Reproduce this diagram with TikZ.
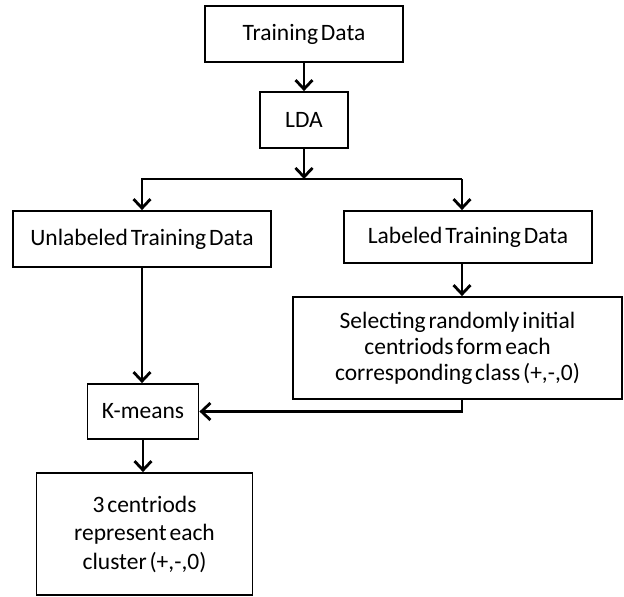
\documentclass[tikz,border=0pt]{standalone}
\usepackage{fontspec}
\setmainfont[WordSpace=0.55]{Carlito}
\usetikzlibrary{arrows.meta}
\tikzset{
  box/.style={draw, line width=1.8pt, inner sep=0pt, align=center,
    font=\fontsize{23.5}{27}\selectfont},
  flow/.style={line width=2.8pt,
    -{Straight Barb[length=9pt,width=17pt,line width=2.8pt]}},
  link/.style={line width=2.8pt}
}
\begin{document}
\begin{tikzpicture}[x=1pt,y=-1pt]
  \useasboundingbox[fill=white] (0,0) rectangle (624,597);

  % processing boxes
  \node[box, minimum width=198pt, minimum height=56pt] (td) at (304,34) {Training Data};
  \node[box, minimum width=88pt, minimum height=56pt] (lda) at (304,120) {LDA};
  \node[box, minimum width=258pt, minimum height=56pt] (unl) at (142,239) {Unlabeled Training Data};
  \node[box, minimum width=248pt, minimum height=52pt] (lab) at (468,237) {Labeled Training Data};
  \node[box, minimum width=329pt, minimum height=102pt,
        font=\fontsize{23.5}{26}\selectfont] (sel) at (457.5,348)
        {Selecting randomly initial\\centriods form each\\corresponding class (+,-,0)};
  \node[box, minimum width=111pt, minimum height=55pt] (km) at (143,411.5) {K-means};
  \node[box, minimum width=216pt, minimum height=122pt,
        font=\fontsize{23.5}{28.5}\selectfont] (res) at (144.5,534)
        {3 centriods\\represent each\\cluster (+,-,0)};

  % branching points
  \coordinate (split) at (304,179);
  \coordinate (right) at (462,179);
  \coordinate (back) at (462,399);

  % connectors
  \draw[flow] (td) -- (lda);
  \draw[flow] (lda) -- (split);
  \draw[link] (split) -- (right);
  \draw[flow] (split) -| (unl.north);
  \draw[flow] (right) -- (right |- lab.north);
  \draw[flow] (unl) -- (unl.south |- km.north);
  \draw[flow] (km) -- (km.south |- res.north);
  \draw[flow] (right |- lab.south) -- (right |- sel.north);
  \draw[flow] (back) |- (km.east);
\end{tikzpicture}
\end{document}
